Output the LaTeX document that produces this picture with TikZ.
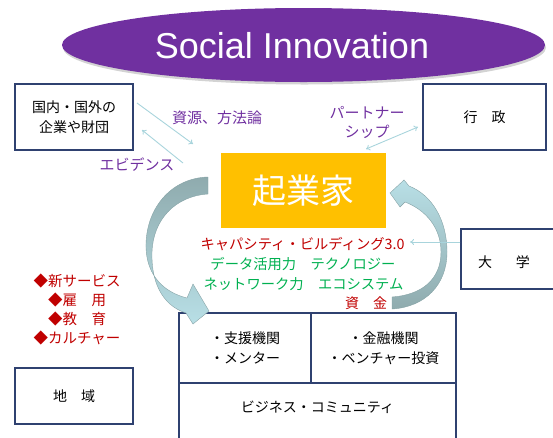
\documentclass[tikz,border=0pt]{standalone}
\usepackage{fontspec}
\setmainfont{Liberation Sans}
\newfontfamily\jp{Noto Sans CJK JP}
\usetikzlibrary{shapes.geometric,arrows.meta,shadows}
\definecolor{inkpurple}{HTML}{7030A0}
\definecolor{navy}{HTML}{2F4170}
\definecolor{connc}{HTML}{A8D4DC}
\definecolor{jred}{HTML}{C00000}
\definecolor{jgreen}{HTML}{00B050}
\definecolor{gold}{HTML}{FFC000}
\definecolor{tealgray}{HTML}{8FABAE}
\definecolor{lightteal}{HTML}{B8DFE6}
\definecolor{arrowedge}{HTML}{86A3A6}
\begin{document}
\begin{tikzpicture}[x=1pt,y=-1pt,
  box/.style={draw=navy, line width=1.1pt, inner sep=0pt, align=center,
    font=\jp\fontsize{14}{20}\selectfont},
  connarrow/.style={draw=connc, line width=0.9pt, -{To[length=4pt,width=6pt]}},
  purpletext/.style={text=inkpurple, font=\jp\fontsize{15}{19}\selectfont, align=center, inner sep=0pt},
  redtext/.style={text=jred, font=\jp\fontsize{14.3}{19}\selectfont, align=center, inner sep=0pt},
  greentext/.style={text=jgreen, font=\jp\fontsize{14.3}{19}\selectfont, align=center, inner sep=0pt},
  blacktext/.style={text=black, font=\jp\fontsize{14}{19}\selectfont, align=center, inner sep=0pt}
]
\useasboundingbox (0,0) rectangle (553,437);

% title ellipse
\node[ellipse, fill=inkpurple, inner sep=0pt, minimum width=483pt, minimum height=74pt,
  drop shadow={opacity=0.35, shadow xshift=1pt, shadow yshift=-2.5pt}] (si) at (303.5,45) {};
\node[text=white, inner sep=0pt, font=\fontsize{36}{40}\selectfont] (sit) at (292,46) {Social Innovation};

% boxes
\node[box, minimum width=118pt, minimum height=66pt] (corp) at (74,117) {国内・国外の\\企業や財団};
\node[box, minimum width=123pt, minimum height=66pt] (gyosei) at (484.5,117) {行　政};
\node[box, minimum width=100pt, minimum height=60pt] (daigaku) at (511,259) {};
\node[blacktext] (daigakut) at (504,262) {大\hspace{1.7em}学};
\node[box, minimum width=118pt, minimum height=56pt] (chiiki) at (74,396) {地　域};

\node[fill=gold, inner sep=0pt, minimum width=165pt, minimum height=75pt,
  text=white, font=\jp\fontsize{34}{38}\selectfont] (kigyo) at (303.5,190.5) {起業家};

% bottom block
\node[box, minimum width=132pt, minimum height=70pt] (shien) at (245,348) {・支援機関\\・メンター};
\node[box, minimum width=145pt, minimum height=70pt] (kinyu) at (383.5,348) {・金融機関\\・ベンチャー投資};
\node[box, minimum width=277pt, minimum height=67pt] (biz) at (317.5,416.5) {};
\node[blacktext] (bizt) at (317.5,407) {ビジネス・コミュニティ};

% curved arrows
\shadedraw[top color=tealgray, bottom color=lightteal, draw=arrowedge, line width=0.4pt]
  (208,177) .. controls (170,178) and (145,210) .. (146,248)
  .. controls (147,275) and (163,292) .. (187,298)
  -- (193,284) -- (209,311) -- (193,324) -- (186,313)
  .. controls (161,305) and (151,280) .. (152,252)
  .. controls (153,220) and (175,196) .. (208,194) -- cycle;

\shadedraw[top color=lightteal, bottom color=tealgray, draw=arrowedge, line width=0.4pt]
  (390,193) -- (404,180) -- (409,186)
  .. controls (432,195) and (447,220) .. (447,252)
  .. controls (447,285) and (425,307) .. (392,309)
  -- (392,297)
  .. controls (421,295) and (441,280) .. (441,252)
  .. controls (441,228) and (426,210) .. (405,202)
  -- (400,207) -- cycle;

% connector end points
\coordinate (a1s) at (137,103);
\coordinate (a1e) at (193,144);
\coordinate (a2s) at (183,163);
\coordinate (a2e) at (142,130);
\coordinate (p1) at (418,127);
\coordinate (p2) at (366,149);
\coordinate (cap) at (410,242);

\draw[connarrow] (a1s) -- (a1e);
\draw[connarrow] (a2s) -- (a2e);
\draw[connarrow, {To[length=4pt,width=6pt]}-{To[length=4pt,width=6pt]}] (p1) -- (p2);
\draw[connarrow] (daigaku.west |- cap) -- (cap);

% labels
\node[purpletext] (shigen) at (217,118) {資源、方法論};
\node[purpletext] (evid) at (137,165) {エビデンス};
\node[purpletext] (partner) at (367,122.5) {パートナー\\シップ};

\node[redtext] (capacity) at (302.5,244) {キャパシティ・ビルディング3.0};
\node[greentext] (data) at (303,264) {データ活用力　テクノロジー};
\node[greentext] (network) at (303.5,284) {ネットワーク力　エコシステム};
\node[redtext, font=\jp\fontsize{14}{19}\selectfont] (shikin) at (366,303) {資　金};

\node[redtext, font=\jp\fontsize{14.5}{19}\selectfont] (list) at (77,309.5)
  {◆新サービス\\◆雇　用\\◆教　育\\◆カルチャー};
\end{tikzpicture}
\end{document}
